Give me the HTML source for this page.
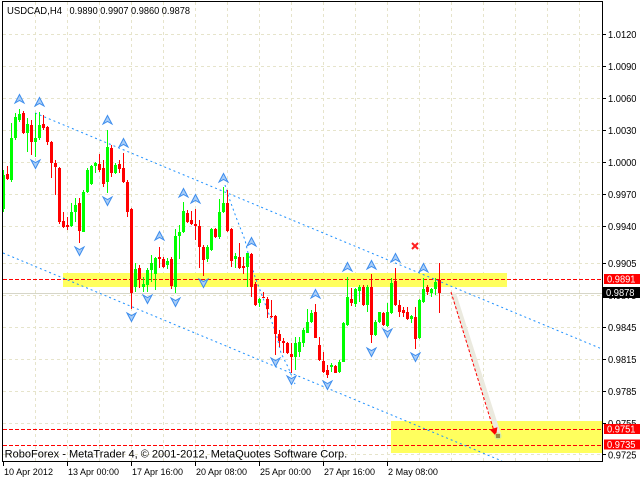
<!DOCTYPE html>
<html><head><meta charset="utf-8"><style>
html,body{margin:0;padding:0;background:#fff;}
svg{display:block;}
text{font-family:"Liberation Sans",Arial,sans-serif;fill:#000;}
</style></head><body>
<svg width="640" height="479" viewBox="0 0 640 479" xmlns="http://www.w3.org/2000/svg">
<defs>
<path id="fu" d="M0,-4.5 L4.5,4 L0,1.5 L-4.5,4 Z" fill="#a9cdf7" stroke="#3d8ded" stroke-width="1"/>
<path id="fd" d="M0,4.5 L4.5,-4 L0,-1.5 L-4.5,-4 Z" fill="#a9cdf7" stroke="#3d8ded" stroke-width="1"/>
</defs>
<rect width="640" height="479" fill="#fff"/>
<!-- grid -->
<g stroke="#e6e4cb" stroke-width="1" stroke-dasharray="3,3">
<path d="M35.5 2V461M67.5 2V461M99.5 2V461M131.5 2V461M163.5 2V461M195.5 2V461M227.5 2V461M259.5 2V461M291.5 2V461M323.5 2V461M355.5 2V461M387.5 2V461M419.5 2V461M451.5 2V461M483.5 2V461M515.5 2V461M547.5 2V461M579.5 2V461"/>
<path d="M3 34.5H602M3 66.5H602M3 98.5H602M3 130.5H602M3 162.5H602M3 194.5H602M3 226.5H602M3 263.5H602M3 295.5H602M3 327.5H602M3 359.5H602M3 391.5H602M3 423.5H602M3 454.5H602"/>
</g>
<!-- yellow zones -->
<rect x="63" y="273" width="444" height="14" fill="#ffff5e"/>
<rect x="391" y="421" width="211" height="32" fill="#ffff5e"/>
<!-- level lines -->
<g stroke="#ff0000" stroke-width="1" stroke-dasharray="4,2">
<path d="M3 279.5H602M3 429.5H602M3 445.5H602"/>
</g>
<path d="M3 293.5H602" stroke="#d6d6c8" stroke-width="1"/>
<!-- channel lines -->
<g stroke="#1e90ff" stroke-width="1" stroke-dasharray="2,3" fill="none">
<path d="M35 113L602 349"/>
<path d="M3 253L502 461"/>
<polyline points="225,185 228,195 236,217 245,240 248,253 255,277 260,290 276,333 281,353 288,367 295,384"/>
</g>
<!-- candles -->
<path stroke="#00ff00" stroke-width="1" fill="none" d="M3.5 170V212M11.5 123V182M15.5 113V140M19.5 109V122M27.5 118V152M35.5 113V157M39.5 112V140M71.5 203V227M75.5 198V222M83.5 190V232M87.5 168V193M91.5 165V185M95.5 162V173M107.5 130V193M115.5 163V174M135.5 263V292M143.5 277V292M147.5 268V292M151.5 255V282M155.5 257V290M167.5 258V269M175.5 229V293M179.5 225V259M183.5 202V233M207.5 245V262M211.5 228V251M219.5 199V239M223.5 187V213M235.5 253V268M247.5 253V287M259.5 298V307M295.5 337V370M299.5 337V357M303.5 328V347M307.5 309V333M311.5 310V323M331.5 363V372M339.5 360V373M343.5 322V362M347.5 277V326M355.5 288V307M359.5 285V302M367.5 285V312M375.5 320V336M379.5 312V323M387.5 303V327M391.5 278V314M411.5 315V323M419.5 299V339M423.5 278V303M431.5 288V297M435.5 278V295"/>
<path fill="#00ff00" d="M2 175h3v34h-3zM10 138h3v42h-3zM14 117h3v21h-3zM18 114h3v6h-3zM26 124h3v9h-3zM34 138h3v4h-3zM38 125h3v13h-3zM70 212h3v14h-3zM74 205h3v7h-3zM82 192h3v40h-3zM86 170h3v22h-3zM90 166h3v18h-3zM94 163h3v3h-3zM106 147h3v35h-3zM114 165h3v8h-3zM134 269h3v18h-3zM142 284h3v3h-3zM146 270h3v15h-3zM150 263h3v7h-3zM154 258h3v16h-3zM166 261h3v4h-3zM174 236h3v51h-3zM178 232h3v4h-3zM182 211h3v21h-3zM206 247h3v12h-3zM210 229h3v21h-3zM218 212h3v25h-3zM222 203h3v9h-3zM234 256h3v3h-3zM246 253h3v14h-3zM258 299h3v4h-3zM294 343h3v14h-3zM298 342h3v10h-3zM302 330h3v13h-3zM306 322h3v11h-3zM310 313h3v9h-3zM330 365h3v2h-3zM338 362h3v10h-3zM342 323h3v39h-3zM346 297h3v28h-3zM354 289h3v15h-3zM358 287h3v4h-3zM366 287h3v18h-3zM374 322h3v13h-3zM378 312h3v10h-3zM386 312h3v14h-3zM390 283h3v30h-3zM410 316h3v3h-3zM418 300h3v38h-3zM422 289h3v13h-3zM430 289h3v4h-3zM434 282h3v7h-3z"/>
<path stroke="#ff0000" stroke-width="1" fill="none" d="M7.5 166V180M23.5 111V134M31.5 120V155M43.5 115V130M47.5 126V145M51.5 141V178M55.5 160V195M59.5 167V224M63.5 212V228M67.5 217V230M79.5 198V243M99.5 154V172M103.5 160V187M111.5 145V177M119.5 160V173M123.5 153V183M127.5 180V217M131.5 208V309M139.5 265V288M159.5 247V268M163.5 257V268M171.5 257V289M187.5 210V223M191.5 211V225M195.5 209V240M199.5 220V268M203.5 245V276M215.5 228V238M227.5 190V232M231.5 228V267M239.5 243V269M243.5 257V274M251.5 253V297M255.5 282V306M263.5 292V298M267.5 297V318M271.5 300V318M275.5 315V355M279.5 330V347M283.5 338V353M287.5 342V354M291.5 343V373M315.5 304V338M319.5 337V361M323.5 352V373M327.5 365V378M335.5 365V373M351.5 288V306M363.5 285V306M371.5 274V343M383.5 312V326M395.5 268V306M399.5 300V317M403.5 307V317M407.5 307V320M415.5 307V349M427.5 285V295M439.5 263V313"/>
<path fill="#ff0000" d="M6 174h3v5h-3zM22 113h3v20h-3zM30 125h3v17h-3zM42 124h3v4h-3zM46 127h3v15h-3zM50 142h3v21h-3zM54 163h3v4h-3zM58 168h3v54h-3zM62 221h3v6h-3zM66 225h3v2h-3zM78 203h3v28h-3zM98 164h3v6h-3zM102 168h3v16h-3zM110 148h3v25h-3zM118 164h3v5h-3zM122 168h3v14h-3zM126 182h3v30h-3zM130 209h3v84h-3zM138 268h3v11h-3zM158 257h3v2h-3zM162 259h3v8h-3zM170 259h3v27h-3zM186 213h3v9h-3zM190 220h3v4h-3zM194 224h3v2h-3zM198 226h3v21h-3zM202 247h3v13h-3zM214 229h3v8h-3zM226 203h3v28h-3zM230 229h3v32h-3zM238 257h3v11h-3zM242 266h3v2h-3zM250 254h3v33h-3zM254 284h3v21h-3zM262 297h3v1h-3zM266 299h3v10h-3zM270 316h3v1h-3zM274 316h3v18h-3zM278 334h3v7h-3zM282 341h3v2h-3zM286 343h3v10h-3zM290 354h3v3h-3zM314 312h3v26h-3zM318 345h3v15h-3zM322 361h3v11h-3zM326 370h3v5h-3zM334 366h3v7h-3zM350 299h3v4h-3zM362 287h3v18h-3zM370 287h3v48h-3zM382 313h3v12h-3zM394 281h3v24h-3zM398 305h3v7h-3zM402 310h3v3h-3zM406 312h3v7h-3zM414 317h3v22h-3zM426 287h3v5h-3zM438 280h3v13h-3z"/>
<!-- fractals -->
<use href="#fu" x="19.5" y="99"/><use href="#fu" x="39.5" y="102"/><use href="#fu" x="107.5" y="120"/><use href="#fu" x="123.5" y="143"/><use href="#fu" x="159.5" y="236"/><use href="#fu" x="183.5" y="193"/><use href="#fu" x="195.5" y="199"/><use href="#fu" x="223.5" y="178"/><use href="#fu" x="251.5" y="242"/><use href="#fu" x="315.5" y="294"/><use href="#fu" x="347.5" y="267"/><use href="#fu" x="371.5" y="265"/><use href="#fu" x="395.5" y="258"/><use href="#fu" x="423.5" y="268"/>
<use href="#fd" x="35.5" y="164"/><use href="#fd" x="79.5" y="251"/><use href="#fd" x="107.5" y="201"/><use href="#fd" x="131.5" y="317"/><use href="#fd" x="147.5" y="299"/><use href="#fd" x="175.5" y="302"/><use href="#fd" x="203.5" y="283"/><use href="#fd" x="275.5" y="362"/><use href="#fd" x="291.5" y="380"/><use href="#fd" x="327.5" y="385"/><use href="#fd" x="371.5" y="352"/><use href="#fd" x="387.5" y="333"/><use href="#fd" x="415.5" y="357"/>
<!-- forecast arrow -->
<path d="M454 295L499 436" stroke="#ebeadf" stroke-width="5" stroke-linecap="round"/>
<path d="M451 292L494 431" stroke="#ff0000" stroke-width="1" stroke-dasharray="3,2"/>
<polygon points="496,436 489.8,429.6 497.4,427.2" fill="#ff0000"/>
<circle cx="498" cy="436" r="3.5" fill="#c8e890" opacity="0.8"/>
<rect x="496" y="434" width="4" height="4" fill="#9a8a40"/>
<!-- red cross -->
<path d="M412 243L418 249M418 243L412 249" stroke="#ff2020" stroke-width="2"/>
<!-- frame -->
<rect x="2.5" y="1.5" width="600" height="460" fill="none" stroke="#000" stroke-width="1"/>
<!-- axis ticks -->
<path stroke="#000" stroke-width="1" d="M602 34.5H606M602 66.5H606M602 98.5H606M602 130.5H606M602 162.5H606M602 194.5H606M602 226.5H606M602 263.5H606M602 295.5H606M602 327.5H606M602 359.5H606M602 391.5H606M602 423.5H606M602 454.5H606M3.5 461V466M67.5 461V466M131.5 461V466M195.5 461V466M259.5 461V466M323.5 461V466M387.5 461V466"/>
<!-- header -->
<text x="7" y="14" font-size="10" textLength="55" lengthAdjust="spacingAndGlyphs">USDCAD,H4</text>
<text x="69.5" y="14" font-size="10" textLength="120.5" lengthAdjust="spacingAndGlyphs">0.9890 0.9907 0.9860 0.9878</text>
<!-- price labels -->
<g font-size="10">
<text x="608" y="38" textLength="28.5" lengthAdjust="spacingAndGlyphs">1.0120</text>
<text x="608" y="70" textLength="28.5" lengthAdjust="spacingAndGlyphs">1.0090</text>
<text x="608" y="102" textLength="28.5" lengthAdjust="spacingAndGlyphs">1.0060</text>
<text x="608" y="134" textLength="28.5" lengthAdjust="spacingAndGlyphs">1.0030</text>
<text x="608" y="166" textLength="28.5" lengthAdjust="spacingAndGlyphs">1.0000</text>
<text x="608" y="198" textLength="28.5" lengthAdjust="spacingAndGlyphs">0.9970</text>
<text x="608" y="230" textLength="28.5" lengthAdjust="spacingAndGlyphs">0.9940</text>
<text x="608" y="267" textLength="28.5" lengthAdjust="spacingAndGlyphs">0.9905</text>
<text x="608" y="299" textLength="28.5" lengthAdjust="spacingAndGlyphs">0.9875</text>
<text x="608" y="331" textLength="28.5" lengthAdjust="spacingAndGlyphs">0.9845</text>
<text x="608" y="363" textLength="28.5" lengthAdjust="spacingAndGlyphs">0.9815</text>
<text x="608" y="395" textLength="28.5" lengthAdjust="spacingAndGlyphs">0.9785</text>
<text x="608" y="427" textLength="28.5" lengthAdjust="spacingAndGlyphs">0.9755</text>
<text x="608" y="458.5" textLength="28.5" lengthAdjust="spacingAndGlyphs">0.9725</text>
</g>
<!-- value boxes -->
<rect x="604" y="274" width="36" height="10" fill="#ff0000"/>
<text x="607" y="282.5" font-size="10" textLength="28.5" lengthAdjust="spacingAndGlyphs" style="fill:#fff">0.9891</text>
<rect x="603" y="287" width="37" height="11" fill="#000"/>
<text x="606" y="296" font-size="10" textLength="28.5" lengthAdjust="spacingAndGlyphs" style="fill:#fff">0.9878</text>
<rect x="604" y="424" width="36" height="10" fill="#ff0000"/>
<text x="607" y="432.5" font-size="10" textLength="28.5" lengthAdjust="spacingAndGlyphs" style="fill:#fff">0.9751</text>
<rect x="604" y="439.5" width="36" height="10" fill="#ff0000"/>
<text x="607" y="448" font-size="10" textLength="28.5" lengthAdjust="spacingAndGlyphs" style="fill:#fff">0.9735</text>
<!-- copyright -->
<text x="4.7" y="457.3" font-size="11" textLength="342.5" lengthAdjust="spacingAndGlyphs">RoboForex - MetaTrader 4, © 2001-2012, MetaQuotes Software Corp.</text>
<!-- time labels -->
<g font-size="9.5">
<text x="4" y="475" textLength="49" lengthAdjust="spacingAndGlyphs">10 Apr 2012</text>
<text x="68" y="475" textLength="51" lengthAdjust="spacingAndGlyphs">13 Apr 00:00</text>
<text x="132" y="475" textLength="51" lengthAdjust="spacingAndGlyphs">17 Apr 16:00</text>
<text x="196" y="475" textLength="51" lengthAdjust="spacingAndGlyphs">20 Apr 08:00</text>
<text x="260" y="475" textLength="51" lengthAdjust="spacingAndGlyphs">25 Apr 00:00</text>
<text x="324" y="475" textLength="51" lengthAdjust="spacingAndGlyphs">27 Apr 16:00</text>
<text x="388" y="475" textLength="50" lengthAdjust="spacingAndGlyphs">2 May 08:00</text>
</g>
</svg>
</body></html>
